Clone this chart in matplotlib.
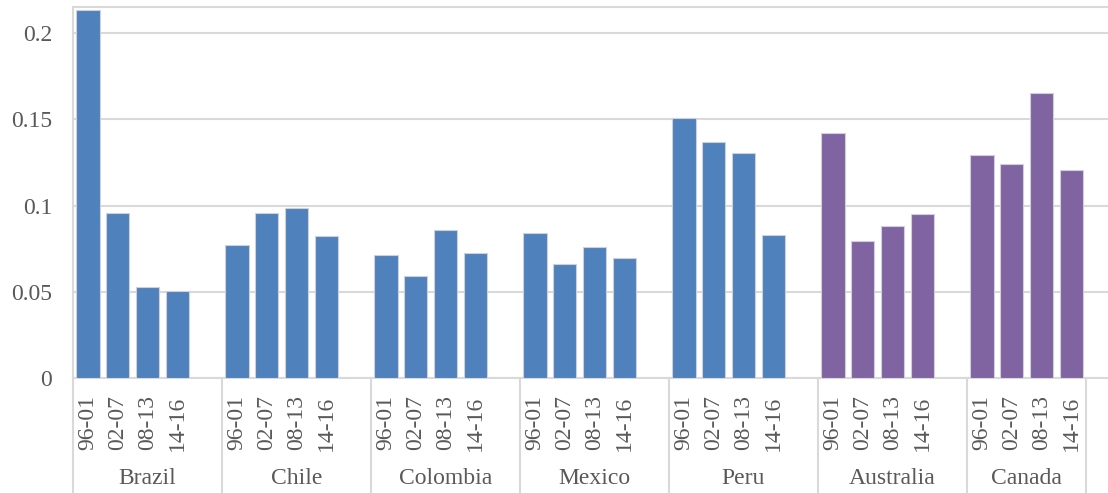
import matplotlib.pyplot as plt
import matplotlib.transforms as mtransforms

plt.rcParams['font.family'] = ['Liberation Serif', 'DejaVu Serif']

countries = ["Brazil", "Chile", "Colombia", "Mexico", "Peru", "Australia", "Canada"]
periods = ["96-01", "02-07", "08-13", "14-16"]

brazil = [0.2133, 0.0957, 0.0528, 0.0504]
chile = [0.0771, 0.0957, 0.0986, 0.0823]
colombia = [0.0713, 0.0591, 0.0858, 0.0725]
mexico = [0.0841, 0.0661, 0.0759, 0.0696]
peru = [0.1507, 0.1368, 0.1304, 0.0829]
australia = [0.1418, 0.0796, 0.0881, 0.0951]
canada = [0.1295, 0.1239, 0.1654, 0.1208]

values = [brazil, chile, colombia, mexico, peru, australia, canada]
colors = ["#4F81BD"] * 5 + ["#8064A2"] * 2

grid_c = "#D9D9D9"
text_c = "#595959"

fig = plt.figure(figsize=(11.08, 4.93), dpi=100)
ax = fig.add_axes([73 / 1108, (493 - 378) / 493, 1 - 73 / 1108, 371 / 493])

xs, labels = [], []
for g, (vals, col) in enumerate(zip(values, colors)):
    pos = [g * 5 + p for p in range(len(periods))]
    ax.bar(pos, vals, width=0.78, color=col, edgecolor="#D0D0D8", linewidth=0.8, zorder=3)
    xs += pos
    labels += periods

ax.set_ylim(0, 0.2151)
ax.set_xlim(-0.5, -0.5 + (1108 - 73) / 29.8)
ax.set_yticks([0, 0.05, 0.1, 0.15, 0.2])
ax.set_yticklabels(["0", "0.05", "0.1", "0.15", "0.2"])
ax.yaxis.grid(True, color=grid_c, linewidth=1.5, zorder=0)
ax.set_xticks(xs)
ax.set_xticklabels(labels, rotation=90)
ax.tick_params(axis="both", length=0, labelsize=17, labelcolor=text_c)
ax.tick_params(axis="y", pad=15)
ax.tick_params(axis="x", pad=12.5)

ax.spines["right"].set_visible(False)
for s in ["top", "left", "bottom"]:
    ax.spines[s].set_color(grid_c)
    ax.spines[s].set_linewidth(1.5)

trans = mtransforms.blended_transform_factory(ax.transData, ax.transAxes)
bottom = -(493 - 378) / 371
seps = [g * 5 - 0.5 for g in range(len(countries))] + [len(countries) * 5 - 1.5]
for x in seps:
    ax.plot([x, x], [0, bottom], transform=trans, color=grid_c, linewidth=1.5, clip_on=False)

for g, name in enumerate(countries):
    lo = g * 5 - 0.5
    hi = seps[g + 1]
    ax.text((lo + hi) / 2, -100 / 371, name, transform=trans, ha="center", va="center",
            fontsize=17, color=text_c)

fig.savefig("out.png", dpi=100)
